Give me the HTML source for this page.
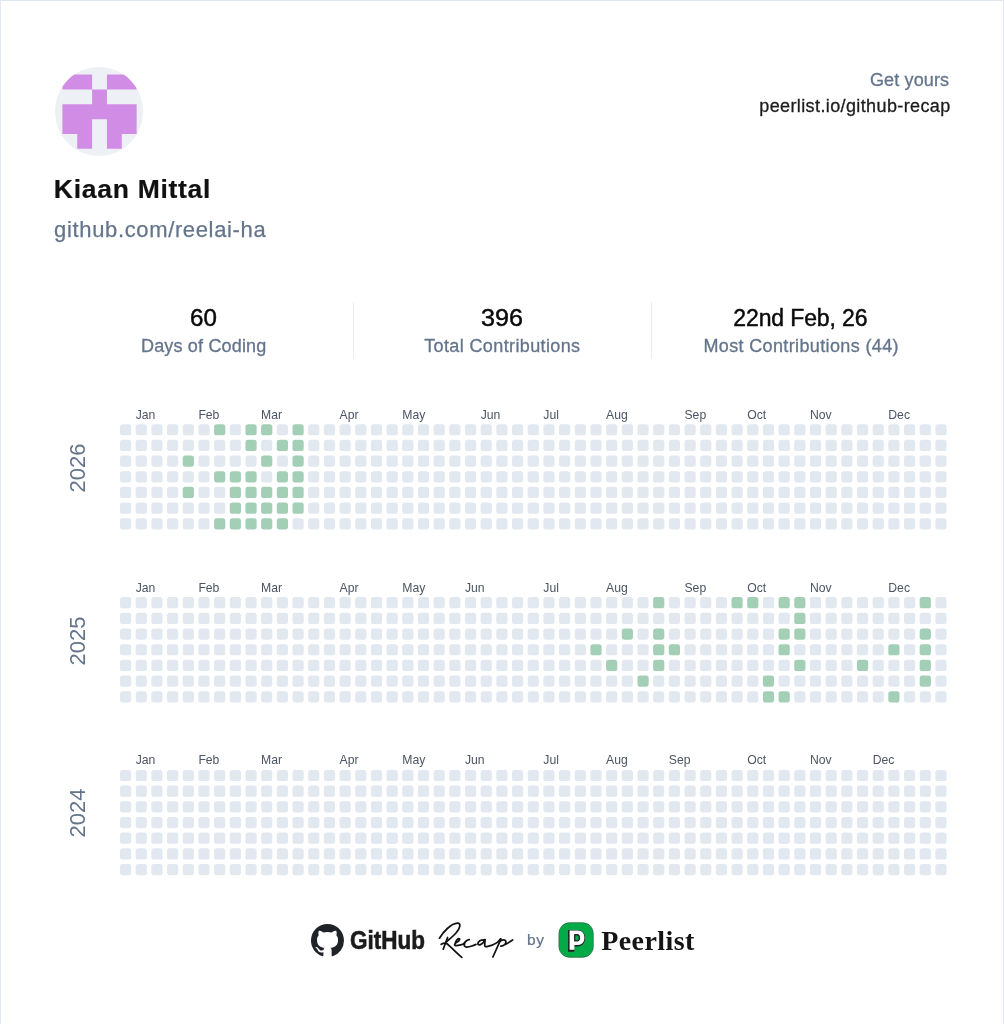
<!DOCTYPE html>
<html><head><meta charset="utf-8"><title>GitHub Recap</title>
<style>
html,body{margin:0;padding:0;background:#fff;}
body{width:1004px;height:1024px;overflow:hidden;position:relative;font-family:"Liberation Sans",sans-serif;}
.page{position:absolute;left:0;top:0;width:1004px;height:1024px;will-change:transform;}
.frame{position:absolute;left:0;top:0;width:1002px;height:1100px;border:1px solid #e2e8f0;}
.grid{position:absolute;left:0;top:0;}
.grid rect{width:11.2px;height:11.2px;rx:2.6px;fill:#e2e8f0;}
.grid rect.g{fill:#a3cfb7;}
.mon{position:absolute;font-size:12.2px;color:#4b5563;line-height:1;white-space:nowrap;}
.yr{position:absolute;left:78.1px;font-size:22px;letter-spacing:0px;color:#64748b;line-height:1;transform:translate(-50%,-50%) rotate(-90deg);white-space:nowrap;}
.avatar{position:absolute;left:54.6px;top:67.4px;width:88.5px;height:88.5px;border-radius:50%;background:#edf0f4;overflow:hidden;}
.sep{position:absolute;top:302px;width:1px;height:57px;background:#e8edf3;}
.t{position:absolute;white-space:nowrap;line-height:1;}

</style></head>
<body>
<div class="frame"></div>
<div class="page">
<div class="avatar"><svg width="88.5" height="88.5" viewBox="0 0 88.5 88.5" style="position:absolute;left:0;top:0"><g fill="#d18de5" transform="translate(7.4,7.6)">
<path d="M0,29.7H29.7V14.85H44.55V29.7H74.25V59.4H59.4V74.25H44.55V44.55H29.7V74.25H14.85V59.4H0Z M0,0H29.7V14.85H0Z M44.55,0H74.25V14.85H44.55Z"/>
</g></svg></div>
<div class="sep" style="left:352.5px"></div>
<div class="sep" style="left:650.5px"></div>
<svg class="ghm" width="33" height="33" viewBox="0 0 16 16" style="position:absolute;left:310.5px;top:923.6px"><path fill="#1f2328" d="M8 0C3.58 0 0 3.58 0 8c0 3.54 2.29 6.53 5.47 7.59.4.07.55-.17.55-.38 0-.19-.01-.82-.01-1.49-2.01.37-2.530-.49-2.69-.94-.09-.23-.48-.94-.82-1.13-.28-.15-.68-.52-.01-.53.63-.01 1.08.58 1.23.82.72 1.21 1.87.87 2.33.66.07-.52.28-.87.51-1.07-1.780-.2-3.640-.89-3.640-3.95 0-.87.31-1.59.82-2.15-.08-.2-.36-1.020.08-2.12 0 0 .67-.21 2.2.82.64-.18 1.32-.27 2-.27.68 0 1.36.09 2 .27 1.53-1.04 2.2-.82 2.2-.82.44 1.1.16 1.92.08 2.12.51.56.82 1.27.82 2.15 0 3.07-1.87 3.75-3.65 3.95.29.25.54.73.54 1.48 0 1.07-.01 1.93-.01 2.2 0 .21.15.46.55.38A8.013 8.013 0 0016 8c0-4.42-3.58-8-8-8z"/></svg>
<div class="t" style="left:349.7px;top:926.67px;font-size:26.5px;font-weight:bold;color:#1b1b1b;-webkit-text-stroke:0.6px #1b1b1b;transform:scaleX(0.85);transform-origin:0 0">GitHub</div>
<svg width="1004" height="1024" viewBox="0 0 1004 1024" style="position:absolute;left:0;top:0">
<g fill="none" stroke="#111" stroke-width="1.75" stroke-linecap="round" stroke-linejoin="round">
<path d="M439.5,938.2 C443,932 451,923.5 457.5,923.2 C461.5,923 460,928.5 456,933 C453,936.5 449,939.5 446,942"/>
<path d="M447.6,937.5 L443.2,949.2"/>
<path d="M441.2,944.3 C443,943.4 445.5,942.8 447,943.8 C451,947 457,953.5 461.8,957.4"/>
<path d="M454.6,945 C455.5,942 456.8,939 458.5,938.6 C460.5,938.3 460,941 456,942.8 C454.5,943.8 454.2,945.5 456,945.6 C458,945.7 460.5,944.8 463.5,944.2"/>
<path d="M463.5,944.2 C465,941.5 467,939.8 469.3,939.6 C466.5,939.8 464.2,942.5 464.3,945.3 C464.4,947.5 467.5,947.6 471.9,946 C473.5,945.4 475,944.8 476,944.4"/>
<path d="M484.3,939.8 C481,939.5 478,941.5 477.9,943.6 C477.8,945.2 480,945 481.5,944 C483,943 484.5,941 485.1,939.6 L484.7,945 C484.6,946.5 485.8,946.9 487,946.6 C490,946 494,944.8 497,942.6 C498.5,941.5 499.8,940 500.5,938.8"/>
<path d="M500.9,939.1 L492.9,957"/>
<path d="M499.3,941.8 C501,940.3 503.5,939.6 505.2,940.4 C506.5,941.2 506,943.5 504.5,944.7 C503.2,945.8 501.5,946.3 500.7,946 C504,945.8 508,943 512.6,940"/>
</g>
<g transform="translate(554,918)">
<rect x="4.8" y="4.6" width="34.6" height="34.8" rx="11" ry="11" fill="#04aa47" stroke="#3a2a3a" stroke-width="0.4"/>
<path fill="#231f20" d="M14.1,12.0 H24 C28.3,12.0 31.1,15.3 31.1,19.9 C31.1,24.6 28.2,28.4 23.6,28.4 H20.3 V33.8 H14.1 Z"/>
<path fill="#fff" fill-rule="evenodd" d="M15.6,12.6 H24 C28,12.6 30.4,15.5 30.4,19.8 C30.4,24.2 27.8,27 24,27 H20.4 V31.8 H15.6 Z M20.2,16.2 H23.6 C25,16.2 25.9,17.8 25.9,19.8 C25.9,21.8 25,23.3 23.6,23.3 H20.2 Z"/>
<path fill="#231f20" d="M20.2,16.2 H23.6 C25,16.2 25.9,17.8 25.9,19.8 C25.9,21.8 25,23.3 23.6,23.3 H20.2 Z"/>
<path fill="#04aa47" d="M21.4,17.4 H23.4 C24.3,17.4 24.7,18.6 24.7,19.9 C24.7,21.4 24.2,22.3 23.3,22.3 H21.4 Z"/>
</g>
</svg>

<div class="t" style="left:869.90px;top:71.06px;font-size:18px;letter-spacing:0.150px;font-weight:normal;font-family:Liberation Sans;color:#64748b;-webkit-text-stroke:0.3px #64748b;">Get yours</div>
<div class="t" style="left:759.30px;top:97.46px;font-size:18px;letter-spacing:0.383px;font-weight:normal;font-family:Liberation Sans;color:#1c1c1c;-webkit-text-stroke:0.3px #1c1c1c;">peerlist.io/github-recap</div>
<div class="t" style="left:53.80px;top:175.87px;font-size:26.5px;letter-spacing:0.718px;font-weight:bold;font-family:Liberation Sans;color:#111111;-webkit-text-stroke:0.2px #111111;">Kiaan Mittal</div>
<div class="t" style="left:54.10px;top:218.68px;font-size:22px;letter-spacing:0.642px;font-weight:normal;font-family:Liberation Sans;color:#64748b;-webkit-text-stroke:0.25px #64748b;">github.com/reelai-ha</div>
<div class="t" style="transform:scaleX(1.05);transform-origin:0 0;left:189.95px;top:306.83px;font-size:23px;letter-spacing:0.000px;font-weight:normal;font-family:Liberation Sans;color:#0a0a0a;-webkit-text-stroke:0.45px #0a0a0a;">60</div>
<div class="t" style="left:141.00px;top:336.56px;font-size:18px;letter-spacing:0.169px;font-weight:normal;font-family:Liberation Sans;color:#64748b;-webkit-text-stroke:0.3px #64748b;">Days of Coding</div>
<div class="t" style="transform:scaleX(1.094);transform-origin:0 0;left:481.21px;top:306.83px;font-size:23px;letter-spacing:0.000px;font-weight:normal;font-family:Liberation Sans;color:#0a0a0a;-webkit-text-stroke:0.45px #0a0a0a;">396</div>
<div class="t" style="left:424.20px;top:336.56px;font-size:18px;letter-spacing:0.378px;font-weight:normal;font-family:Liberation Sans;color:#64748b;-webkit-text-stroke:0.3px #64748b;">Total Contributions</div>
<div class="t" style="left:733.30px;top:306.83px;font-size:23px;letter-spacing:-0.127px;font-weight:normal;font-family:Liberation Sans;color:#0a0a0a;-webkit-text-stroke:0.45px #0a0a0a;">22nd Feb, 26</div>
<div class="t" style="left:703.40px;top:336.56px;font-size:18px;letter-spacing:0.368px;font-weight:normal;font-family:Liberation Sans;color:#64748b;-webkit-text-stroke:0.3px #64748b;">Most Contributions (44)</div>
<div class="t" style="left:527.10px;top:932.48px;font-size:15.5px;letter-spacing:0.500px;font-weight:normal;font-family:Liberation Sans;color:#64748b;-webkit-text-stroke:0.2px #64748b;">by</div>
<div class="t" style="left:601.20px;top:927.15px;font-size:28px;letter-spacing:0.429px;font-weight:bold;font-family:Liberation Serif;color:#141414;">Peerlist</div>

<svg class="grid" width="1004" height="1024" viewBox="0 0 1004 1024"><rect x="120.00" y="424.15"/><rect x="120.00" y="439.83"/><rect x="120.00" y="455.51"/><rect x="120.00" y="471.19"/><rect x="120.00" y="486.87"/><rect x="120.00" y="502.55"/><rect x="120.00" y="518.23"/><rect x="135.68" y="424.15"/><rect x="135.68" y="439.83"/><rect x="135.68" y="455.51"/><rect x="135.68" y="471.19"/><rect x="135.68" y="486.87"/><rect x="135.68" y="502.55"/><rect x="135.68" y="518.23"/><rect x="151.36" y="424.15"/><rect x="151.36" y="439.83"/><rect x="151.36" y="455.51"/><rect x="151.36" y="471.19"/><rect x="151.36" y="486.87"/><rect x="151.36" y="502.55"/><rect x="151.36" y="518.23"/><rect x="167.04" y="424.15"/><rect x="167.04" y="439.83"/><rect x="167.04" y="455.51"/><rect x="167.04" y="471.19"/><rect x="167.04" y="486.87"/><rect x="167.04" y="502.55"/><rect x="167.04" y="518.23"/><rect x="182.72" y="424.15"/><rect x="182.72" y="439.83"/><rect x="182.72" y="455.51" class="g"/><rect x="182.72" y="471.19"/><rect x="182.72" y="486.87" class="g"/><rect x="182.72" y="502.55"/><rect x="182.72" y="518.23"/><rect x="198.40" y="424.15"/><rect x="198.40" y="439.83"/><rect x="198.40" y="455.51"/><rect x="198.40" y="471.19"/><rect x="198.40" y="486.87"/><rect x="198.40" y="502.55"/><rect x="198.40" y="518.23"/><rect x="214.08" y="424.15" class="g"/><rect x="214.08" y="439.83"/><rect x="214.08" y="455.51"/><rect x="214.08" y="471.19" class="g"/><rect x="214.08" y="486.87"/><rect x="214.08" y="502.55"/><rect x="214.08" y="518.23" class="g"/><rect x="229.76" y="424.15"/><rect x="229.76" y="439.83"/><rect x="229.76" y="455.51"/><rect x="229.76" y="471.19" class="g"/><rect x="229.76" y="486.87" class="g"/><rect x="229.76" y="502.55" class="g"/><rect x="229.76" y="518.23" class="g"/><rect x="245.44" y="424.15" class="g"/><rect x="245.44" y="439.83" class="g"/><rect x="245.44" y="455.51"/><rect x="245.44" y="471.19" class="g"/><rect x="245.44" y="486.87" class="g"/><rect x="245.44" y="502.55" class="g"/><rect x="245.44" y="518.23" class="g"/><rect x="261.12" y="424.15" class="g"/><rect x="261.12" y="439.83"/><rect x="261.12" y="455.51" class="g"/><rect x="261.12" y="471.19"/><rect x="261.12" y="486.87" class="g"/><rect x="261.12" y="502.55" class="g"/><rect x="261.12" y="518.23" class="g"/><rect x="276.80" y="424.15"/><rect x="276.80" y="439.83" class="g"/><rect x="276.80" y="455.51"/><rect x="276.80" y="471.19" class="g"/><rect x="276.80" y="486.87" class="g"/><rect x="276.80" y="502.55" class="g"/><rect x="276.80" y="518.23" class="g"/><rect x="292.48" y="424.15" class="g"/><rect x="292.48" y="439.83" class="g"/><rect x="292.48" y="455.51" class="g"/><rect x="292.48" y="471.19" class="g"/><rect x="292.48" y="486.87" class="g"/><rect x="292.48" y="502.55" class="g"/><rect x="292.48" y="518.23"/><rect x="308.16" y="424.15"/><rect x="308.16" y="439.83"/><rect x="308.16" y="455.51"/><rect x="308.16" y="471.19"/><rect x="308.16" y="486.87"/><rect x="308.16" y="502.55"/><rect x="308.16" y="518.23"/><rect x="323.84" y="424.15"/><rect x="323.84" y="439.83"/><rect x="323.84" y="455.51"/><rect x="323.84" y="471.19"/><rect x="323.84" y="486.87"/><rect x="323.84" y="502.55"/><rect x="323.84" y="518.23"/><rect x="339.52" y="424.15"/><rect x="339.52" y="439.83"/><rect x="339.52" y="455.51"/><rect x="339.52" y="471.19"/><rect x="339.52" y="486.87"/><rect x="339.52" y="502.55"/><rect x="339.52" y="518.23"/><rect x="355.20" y="424.15"/><rect x="355.20" y="439.83"/><rect x="355.20" y="455.51"/><rect x="355.20" y="471.19"/><rect x="355.20" y="486.87"/><rect x="355.20" y="502.55"/><rect x="355.20" y="518.23"/><rect x="370.88" y="424.15"/><rect x="370.88" y="439.83"/><rect x="370.88" y="455.51"/><rect x="370.88" y="471.19"/><rect x="370.88" y="486.87"/><rect x="370.88" y="502.55"/><rect x="370.88" y="518.23"/><rect x="386.56" y="424.15"/><rect x="386.56" y="439.83"/><rect x="386.56" y="455.51"/><rect x="386.56" y="471.19"/><rect x="386.56" y="486.87"/><rect x="386.56" y="502.55"/><rect x="386.56" y="518.23"/><rect x="402.24" y="424.15"/><rect x="402.24" y="439.83"/><rect x="402.24" y="455.51"/><rect x="402.24" y="471.19"/><rect x="402.24" y="486.87"/><rect x="402.24" y="502.55"/><rect x="402.24" y="518.23"/><rect x="417.92" y="424.15"/><rect x="417.92" y="439.83"/><rect x="417.92" y="455.51"/><rect x="417.92" y="471.19"/><rect x="417.92" y="486.87"/><rect x="417.92" y="502.55"/><rect x="417.92" y="518.23"/><rect x="433.60" y="424.15"/><rect x="433.60" y="439.83"/><rect x="433.60" y="455.51"/><rect x="433.60" y="471.19"/><rect x="433.60" y="486.87"/><rect x="433.60" y="502.55"/><rect x="433.60" y="518.23"/><rect x="449.28" y="424.15"/><rect x="449.28" y="439.83"/><rect x="449.28" y="455.51"/><rect x="449.28" y="471.19"/><rect x="449.28" y="486.87"/><rect x="449.28" y="502.55"/><rect x="449.28" y="518.23"/><rect x="464.96" y="424.15"/><rect x="464.96" y="439.83"/><rect x="464.96" y="455.51"/><rect x="464.96" y="471.19"/><rect x="464.96" y="486.87"/><rect x="464.96" y="502.55"/><rect x="464.96" y="518.23"/><rect x="480.64" y="424.15"/><rect x="480.64" y="439.83"/><rect x="480.64" y="455.51"/><rect x="480.64" y="471.19"/><rect x="480.64" y="486.87"/><rect x="480.64" y="502.55"/><rect x="480.64" y="518.23"/><rect x="496.32" y="424.15"/><rect x="496.32" y="439.83"/><rect x="496.32" y="455.51"/><rect x="496.32" y="471.19"/><rect x="496.32" y="486.87"/><rect x="496.32" y="502.55"/><rect x="496.32" y="518.23"/><rect x="512.00" y="424.15"/><rect x="512.00" y="439.83"/><rect x="512.00" y="455.51"/><rect x="512.00" y="471.19"/><rect x="512.00" y="486.87"/><rect x="512.00" y="502.55"/><rect x="512.00" y="518.23"/><rect x="527.68" y="424.15"/><rect x="527.68" y="439.83"/><rect x="527.68" y="455.51"/><rect x="527.68" y="471.19"/><rect x="527.68" y="486.87"/><rect x="527.68" y="502.55"/><rect x="527.68" y="518.23"/><rect x="543.36" y="424.15"/><rect x="543.36" y="439.83"/><rect x="543.36" y="455.51"/><rect x="543.36" y="471.19"/><rect x="543.36" y="486.87"/><rect x="543.36" y="502.55"/><rect x="543.36" y="518.23"/><rect x="559.04" y="424.15"/><rect x="559.04" y="439.83"/><rect x="559.04" y="455.51"/><rect x="559.04" y="471.19"/><rect x="559.04" y="486.87"/><rect x="559.04" y="502.55"/><rect x="559.04" y="518.23"/><rect x="574.72" y="424.15"/><rect x="574.72" y="439.83"/><rect x="574.72" y="455.51"/><rect x="574.72" y="471.19"/><rect x="574.72" y="486.87"/><rect x="574.72" y="502.55"/><rect x="574.72" y="518.23"/><rect x="590.40" y="424.15"/><rect x="590.40" y="439.83"/><rect x="590.40" y="455.51"/><rect x="590.40" y="471.19"/><rect x="590.40" y="486.87"/><rect x="590.40" y="502.55"/><rect x="590.40" y="518.23"/><rect x="606.08" y="424.15"/><rect x="606.08" y="439.83"/><rect x="606.08" y="455.51"/><rect x="606.08" y="471.19"/><rect x="606.08" y="486.87"/><rect x="606.08" y="502.55"/><rect x="606.08" y="518.23"/><rect x="621.76" y="424.15"/><rect x="621.76" y="439.83"/><rect x="621.76" y="455.51"/><rect x="621.76" y="471.19"/><rect x="621.76" y="486.87"/><rect x="621.76" y="502.55"/><rect x="621.76" y="518.23"/><rect x="637.44" y="424.15"/><rect x="637.44" y="439.83"/><rect x="637.44" y="455.51"/><rect x="637.44" y="471.19"/><rect x="637.44" y="486.87"/><rect x="637.44" y="502.55"/><rect x="637.44" y="518.23"/><rect x="653.12" y="424.15"/><rect x="653.12" y="439.83"/><rect x="653.12" y="455.51"/><rect x="653.12" y="471.19"/><rect x="653.12" y="486.87"/><rect x="653.12" y="502.55"/><rect x="653.12" y="518.23"/><rect x="668.80" y="424.15"/><rect x="668.80" y="439.83"/><rect x="668.80" y="455.51"/><rect x="668.80" y="471.19"/><rect x="668.80" y="486.87"/><rect x="668.80" y="502.55"/><rect x="668.80" y="518.23"/><rect x="684.48" y="424.15"/><rect x="684.48" y="439.83"/><rect x="684.48" y="455.51"/><rect x="684.48" y="471.19"/><rect x="684.48" y="486.87"/><rect x="684.48" y="502.55"/><rect x="684.48" y="518.23"/><rect x="700.16" y="424.15"/><rect x="700.16" y="439.83"/><rect x="700.16" y="455.51"/><rect x="700.16" y="471.19"/><rect x="700.16" y="486.87"/><rect x="700.16" y="502.55"/><rect x="700.16" y="518.23"/><rect x="715.84" y="424.15"/><rect x="715.84" y="439.83"/><rect x="715.84" y="455.51"/><rect x="715.84" y="471.19"/><rect x="715.84" y="486.87"/><rect x="715.84" y="502.55"/><rect x="715.84" y="518.23"/><rect x="731.52" y="424.15"/><rect x="731.52" y="439.83"/><rect x="731.52" y="455.51"/><rect x="731.52" y="471.19"/><rect x="731.52" y="486.87"/><rect x="731.52" y="502.55"/><rect x="731.52" y="518.23"/><rect x="747.20" y="424.15"/><rect x="747.20" y="439.83"/><rect x="747.20" y="455.51"/><rect x="747.20" y="471.19"/><rect x="747.20" y="486.87"/><rect x="747.20" y="502.55"/><rect x="747.20" y="518.23"/><rect x="762.88" y="424.15"/><rect x="762.88" y="439.83"/><rect x="762.88" y="455.51"/><rect x="762.88" y="471.19"/><rect x="762.88" y="486.87"/><rect x="762.88" y="502.55"/><rect x="762.88" y="518.23"/><rect x="778.56" y="424.15"/><rect x="778.56" y="439.83"/><rect x="778.56" y="455.51"/><rect x="778.56" y="471.19"/><rect x="778.56" y="486.87"/><rect x="778.56" y="502.55"/><rect x="778.56" y="518.23"/><rect x="794.24" y="424.15"/><rect x="794.24" y="439.83"/><rect x="794.24" y="455.51"/><rect x="794.24" y="471.19"/><rect x="794.24" y="486.87"/><rect x="794.24" y="502.55"/><rect x="794.24" y="518.23"/><rect x="809.92" y="424.15"/><rect x="809.92" y="439.83"/><rect x="809.92" y="455.51"/><rect x="809.92" y="471.19"/><rect x="809.92" y="486.87"/><rect x="809.92" y="502.55"/><rect x="809.92" y="518.23"/><rect x="825.60" y="424.15"/><rect x="825.60" y="439.83"/><rect x="825.60" y="455.51"/><rect x="825.60" y="471.19"/><rect x="825.60" y="486.87"/><rect x="825.60" y="502.55"/><rect x="825.60" y="518.23"/><rect x="841.28" y="424.15"/><rect x="841.28" y="439.83"/><rect x="841.28" y="455.51"/><rect x="841.28" y="471.19"/><rect x="841.28" y="486.87"/><rect x="841.28" y="502.55"/><rect x="841.28" y="518.23"/><rect x="856.96" y="424.15"/><rect x="856.96" y="439.83"/><rect x="856.96" y="455.51"/><rect x="856.96" y="471.19"/><rect x="856.96" y="486.87"/><rect x="856.96" y="502.55"/><rect x="856.96" y="518.23"/><rect x="872.64" y="424.15"/><rect x="872.64" y="439.83"/><rect x="872.64" y="455.51"/><rect x="872.64" y="471.19"/><rect x="872.64" y="486.87"/><rect x="872.64" y="502.55"/><rect x="872.64" y="518.23"/><rect x="888.32" y="424.15"/><rect x="888.32" y="439.83"/><rect x="888.32" y="455.51"/><rect x="888.32" y="471.19"/><rect x="888.32" y="486.87"/><rect x="888.32" y="502.55"/><rect x="888.32" y="518.23"/><rect x="904.00" y="424.15"/><rect x="904.00" y="439.83"/><rect x="904.00" y="455.51"/><rect x="904.00" y="471.19"/><rect x="904.00" y="486.87"/><rect x="904.00" y="502.55"/><rect x="904.00" y="518.23"/><rect x="919.68" y="424.15"/><rect x="919.68" y="439.83"/><rect x="919.68" y="455.51"/><rect x="919.68" y="471.19"/><rect x="919.68" y="486.87"/><rect x="919.68" y="502.55"/><rect x="919.68" y="518.23"/><rect x="935.36" y="424.15"/><rect x="935.36" y="439.83"/><rect x="935.36" y="455.51"/><rect x="935.36" y="471.19"/><rect x="935.36" y="486.87"/><rect x="935.36" y="502.55"/><rect x="935.36" y="518.23"/><rect x="120.00" y="597.10"/><rect x="120.00" y="612.78"/><rect x="120.00" y="628.46"/><rect x="120.00" y="644.14"/><rect x="120.00" y="659.82"/><rect x="120.00" y="675.50"/><rect x="120.00" y="691.18"/><rect x="135.68" y="597.10"/><rect x="135.68" y="612.78"/><rect x="135.68" y="628.46"/><rect x="135.68" y="644.14"/><rect x="135.68" y="659.82"/><rect x="135.68" y="675.50"/><rect x="135.68" y="691.18"/><rect x="151.36" y="597.10"/><rect x="151.36" y="612.78"/><rect x="151.36" y="628.46"/><rect x="151.36" y="644.14"/><rect x="151.36" y="659.82"/><rect x="151.36" y="675.50"/><rect x="151.36" y="691.18"/><rect x="167.04" y="597.10"/><rect x="167.04" y="612.78"/><rect x="167.04" y="628.46"/><rect x="167.04" y="644.14"/><rect x="167.04" y="659.82"/><rect x="167.04" y="675.50"/><rect x="167.04" y="691.18"/><rect x="182.72" y="597.10"/><rect x="182.72" y="612.78"/><rect x="182.72" y="628.46"/><rect x="182.72" y="644.14"/><rect x="182.72" y="659.82"/><rect x="182.72" y="675.50"/><rect x="182.72" y="691.18"/><rect x="198.40" y="597.10"/><rect x="198.40" y="612.78"/><rect x="198.40" y="628.46"/><rect x="198.40" y="644.14"/><rect x="198.40" y="659.82"/><rect x="198.40" y="675.50"/><rect x="198.40" y="691.18"/><rect x="214.08" y="597.10"/><rect x="214.08" y="612.78"/><rect x="214.08" y="628.46"/><rect x="214.08" y="644.14"/><rect x="214.08" y="659.82"/><rect x="214.08" y="675.50"/><rect x="214.08" y="691.18"/><rect x="229.76" y="597.10"/><rect x="229.76" y="612.78"/><rect x="229.76" y="628.46"/><rect x="229.76" y="644.14"/><rect x="229.76" y="659.82"/><rect x="229.76" y="675.50"/><rect x="229.76" y="691.18"/><rect x="245.44" y="597.10"/><rect x="245.44" y="612.78"/><rect x="245.44" y="628.46"/><rect x="245.44" y="644.14"/><rect x="245.44" y="659.82"/><rect x="245.44" y="675.50"/><rect x="245.44" y="691.18"/><rect x="261.12" y="597.10"/><rect x="261.12" y="612.78"/><rect x="261.12" y="628.46"/><rect x="261.12" y="644.14"/><rect x="261.12" y="659.82"/><rect x="261.12" y="675.50"/><rect x="261.12" y="691.18"/><rect x="276.80" y="597.10"/><rect x="276.80" y="612.78"/><rect x="276.80" y="628.46"/><rect x="276.80" y="644.14"/><rect x="276.80" y="659.82"/><rect x="276.80" y="675.50"/><rect x="276.80" y="691.18"/><rect x="292.48" y="597.10"/><rect x="292.48" y="612.78"/><rect x="292.48" y="628.46"/><rect x="292.48" y="644.14"/><rect x="292.48" y="659.82"/><rect x="292.48" y="675.50"/><rect x="292.48" y="691.18"/><rect x="308.16" y="597.10"/><rect x="308.16" y="612.78"/><rect x="308.16" y="628.46"/><rect x="308.16" y="644.14"/><rect x="308.16" y="659.82"/><rect x="308.16" y="675.50"/><rect x="308.16" y="691.18"/><rect x="323.84" y="597.10"/><rect x="323.84" y="612.78"/><rect x="323.84" y="628.46"/><rect x="323.84" y="644.14"/><rect x="323.84" y="659.82"/><rect x="323.84" y="675.50"/><rect x="323.84" y="691.18"/><rect x="339.52" y="597.10"/><rect x="339.52" y="612.78"/><rect x="339.52" y="628.46"/><rect x="339.52" y="644.14"/><rect x="339.52" y="659.82"/><rect x="339.52" y="675.50"/><rect x="339.52" y="691.18"/><rect x="355.20" y="597.10"/><rect x="355.20" y="612.78"/><rect x="355.20" y="628.46"/><rect x="355.20" y="644.14"/><rect x="355.20" y="659.82"/><rect x="355.20" y="675.50"/><rect x="355.20" y="691.18"/><rect x="370.88" y="597.10"/><rect x="370.88" y="612.78"/><rect x="370.88" y="628.46"/><rect x="370.88" y="644.14"/><rect x="370.88" y="659.82"/><rect x="370.88" y="675.50"/><rect x="370.88" y="691.18"/><rect x="386.56" y="597.10"/><rect x="386.56" y="612.78"/><rect x="386.56" y="628.46"/><rect x="386.56" y="644.14"/><rect x="386.56" y="659.82"/><rect x="386.56" y="675.50"/><rect x="386.56" y="691.18"/><rect x="402.24" y="597.10"/><rect x="402.24" y="612.78"/><rect x="402.24" y="628.46"/><rect x="402.24" y="644.14"/><rect x="402.24" y="659.82"/><rect x="402.24" y="675.50"/><rect x="402.24" y="691.18"/><rect x="417.92" y="597.10"/><rect x="417.92" y="612.78"/><rect x="417.92" y="628.46"/><rect x="417.92" y="644.14"/><rect x="417.92" y="659.82"/><rect x="417.92" y="675.50"/><rect x="417.92" y="691.18"/><rect x="433.60" y="597.10"/><rect x="433.60" y="612.78"/><rect x="433.60" y="628.46"/><rect x="433.60" y="644.14"/><rect x="433.60" y="659.82"/><rect x="433.60" y="675.50"/><rect x="433.60" y="691.18"/><rect x="449.28" y="597.10"/><rect x="449.28" y="612.78"/><rect x="449.28" y="628.46"/><rect x="449.28" y="644.14"/><rect x="449.28" y="659.82"/><rect x="449.28" y="675.50"/><rect x="449.28" y="691.18"/><rect x="464.96" y="597.10"/><rect x="464.96" y="612.78"/><rect x="464.96" y="628.46"/><rect x="464.96" y="644.14"/><rect x="464.96" y="659.82"/><rect x="464.96" y="675.50"/><rect x="464.96" y="691.18"/><rect x="480.64" y="597.10"/><rect x="480.64" y="612.78"/><rect x="480.64" y="628.46"/><rect x="480.64" y="644.14"/><rect x="480.64" y="659.82"/><rect x="480.64" y="675.50"/><rect x="480.64" y="691.18"/><rect x="496.32" y="597.10"/><rect x="496.32" y="612.78"/><rect x="496.32" y="628.46"/><rect x="496.32" y="644.14"/><rect x="496.32" y="659.82"/><rect x="496.32" y="675.50"/><rect x="496.32" y="691.18"/><rect x="512.00" y="597.10"/><rect x="512.00" y="612.78"/><rect x="512.00" y="628.46"/><rect x="512.00" y="644.14"/><rect x="512.00" y="659.82"/><rect x="512.00" y="675.50"/><rect x="512.00" y="691.18"/><rect x="527.68" y="597.10"/><rect x="527.68" y="612.78"/><rect x="527.68" y="628.46"/><rect x="527.68" y="644.14"/><rect x="527.68" y="659.82"/><rect x="527.68" y="675.50"/><rect x="527.68" y="691.18"/><rect x="543.36" y="597.10"/><rect x="543.36" y="612.78"/><rect x="543.36" y="628.46"/><rect x="543.36" y="644.14"/><rect x="543.36" y="659.82"/><rect x="543.36" y="675.50"/><rect x="543.36" y="691.18"/><rect x="559.04" y="597.10"/><rect x="559.04" y="612.78"/><rect x="559.04" y="628.46"/><rect x="559.04" y="644.14"/><rect x="559.04" y="659.82"/><rect x="559.04" y="675.50"/><rect x="559.04" y="691.18"/><rect x="574.72" y="597.10"/><rect x="574.72" y="612.78"/><rect x="574.72" y="628.46"/><rect x="574.72" y="644.14"/><rect x="574.72" y="659.82"/><rect x="574.72" y="675.50"/><rect x="574.72" y="691.18"/><rect x="590.40" y="597.10"/><rect x="590.40" y="612.78"/><rect x="590.40" y="628.46"/><rect x="590.40" y="644.14" class="g"/><rect x="590.40" y="659.82"/><rect x="590.40" y="675.50"/><rect x="590.40" y="691.18"/><rect x="606.08" y="597.10"/><rect x="606.08" y="612.78"/><rect x="606.08" y="628.46"/><rect x="606.08" y="644.14"/><rect x="606.08" y="659.82" class="g"/><rect x="606.08" y="675.50"/><rect x="606.08" y="691.18"/><rect x="621.76" y="597.10"/><rect x="621.76" y="612.78"/><rect x="621.76" y="628.46" class="g"/><rect x="621.76" y="644.14"/><rect x="621.76" y="659.82"/><rect x="621.76" y="675.50"/><rect x="621.76" y="691.18"/><rect x="637.44" y="597.10"/><rect x="637.44" y="612.78"/><rect x="637.44" y="628.46"/><rect x="637.44" y="644.14"/><rect x="637.44" y="659.82"/><rect x="637.44" y="675.50" class="g"/><rect x="637.44" y="691.18"/><rect x="653.12" y="597.10" class="g"/><rect x="653.12" y="612.78"/><rect x="653.12" y="628.46" class="g"/><rect x="653.12" y="644.14" class="g"/><rect x="653.12" y="659.82" class="g"/><rect x="653.12" y="675.50"/><rect x="653.12" y="691.18"/><rect x="668.80" y="597.10"/><rect x="668.80" y="612.78"/><rect x="668.80" y="628.46"/><rect x="668.80" y="644.14" class="g"/><rect x="668.80" y="659.82"/><rect x="668.80" y="675.50"/><rect x="668.80" y="691.18"/><rect x="684.48" y="597.10"/><rect x="684.48" y="612.78"/><rect x="684.48" y="628.46"/><rect x="684.48" y="644.14"/><rect x="684.48" y="659.82"/><rect x="684.48" y="675.50"/><rect x="684.48" y="691.18"/><rect x="700.16" y="597.10"/><rect x="700.16" y="612.78"/><rect x="700.16" y="628.46"/><rect x="700.16" y="644.14"/><rect x="700.16" y="659.82"/><rect x="700.16" y="675.50"/><rect x="700.16" y="691.18"/><rect x="715.84" y="597.10"/><rect x="715.84" y="612.78"/><rect x="715.84" y="628.46"/><rect x="715.84" y="644.14"/><rect x="715.84" y="659.82"/><rect x="715.84" y="675.50"/><rect x="715.84" y="691.18"/><rect x="731.52" y="597.10" class="g"/><rect x="731.52" y="612.78"/><rect x="731.52" y="628.46"/><rect x="731.52" y="644.14"/><rect x="731.52" y="659.82"/><rect x="731.52" y="675.50"/><rect x="731.52" y="691.18"/><rect x="747.20" y="597.10" class="g"/><rect x="747.20" y="612.78"/><rect x="747.20" y="628.46"/><rect x="747.20" y="644.14"/><rect x="747.20" y="659.82"/><rect x="747.20" y="675.50"/><rect x="747.20" y="691.18"/><rect x="762.88" y="597.10"/><rect x="762.88" y="612.78"/><rect x="762.88" y="628.46"/><rect x="762.88" y="644.14"/><rect x="762.88" y="659.82"/><rect x="762.88" y="675.50" class="g"/><rect x="762.88" y="691.18" class="g"/><rect x="778.56" y="597.10" class="g"/><rect x="778.56" y="612.78"/><rect x="778.56" y="628.46" class="g"/><rect x="778.56" y="644.14" class="g"/><rect x="778.56" y="659.82"/><rect x="778.56" y="675.50"/><rect x="778.56" y="691.18" class="g"/><rect x="794.24" y="597.10" class="g"/><rect x="794.24" y="612.78" class="g"/><rect x="794.24" y="628.46" class="g"/><rect x="794.24" y="644.14"/><rect x="794.24" y="659.82" class="g"/><rect x="794.24" y="675.50"/><rect x="794.24" y="691.18"/><rect x="809.92" y="597.10"/><rect x="809.92" y="612.78"/><rect x="809.92" y="628.46"/><rect x="809.92" y="644.14"/><rect x="809.92" y="659.82"/><rect x="809.92" y="675.50"/><rect x="809.92" y="691.18"/><rect x="825.60" y="597.10"/><rect x="825.60" y="612.78"/><rect x="825.60" y="628.46"/><rect x="825.60" y="644.14"/><rect x="825.60" y="659.82"/><rect x="825.60" y="675.50"/><rect x="825.60" y="691.18"/><rect x="841.28" y="597.10"/><rect x="841.28" y="612.78"/><rect x="841.28" y="628.46"/><rect x="841.28" y="644.14"/><rect x="841.28" y="659.82"/><rect x="841.28" y="675.50"/><rect x="841.28" y="691.18"/><rect x="856.96" y="597.10"/><rect x="856.96" y="612.78"/><rect x="856.96" y="628.46"/><rect x="856.96" y="644.14"/><rect x="856.96" y="659.82" class="g"/><rect x="856.96" y="675.50"/><rect x="856.96" y="691.18"/><rect x="872.64" y="597.10"/><rect x="872.64" y="612.78"/><rect x="872.64" y="628.46"/><rect x="872.64" y="644.14"/><rect x="872.64" y="659.82"/><rect x="872.64" y="675.50"/><rect x="872.64" y="691.18"/><rect x="888.32" y="597.10"/><rect x="888.32" y="612.78"/><rect x="888.32" y="628.46"/><rect x="888.32" y="644.14" class="g"/><rect x="888.32" y="659.82"/><rect x="888.32" y="675.50"/><rect x="888.32" y="691.18" class="g"/><rect x="904.00" y="597.10"/><rect x="904.00" y="612.78"/><rect x="904.00" y="628.46"/><rect x="904.00" y="644.14"/><rect x="904.00" y="659.82"/><rect x="904.00" y="675.50"/><rect x="904.00" y="691.18"/><rect x="919.68" y="597.10" class="g"/><rect x="919.68" y="612.78"/><rect x="919.68" y="628.46" class="g"/><rect x="919.68" y="644.14" class="g"/><rect x="919.68" y="659.82" class="g"/><rect x="919.68" y="675.50" class="g"/><rect x="919.68" y="691.18"/><rect x="935.36" y="597.10"/><rect x="935.36" y="612.78"/><rect x="935.36" y="628.46"/><rect x="935.36" y="644.14"/><rect x="935.36" y="659.82"/><rect x="935.36" y="675.50"/><rect x="935.36" y="691.18"/><rect x="120.00" y="769.90"/><rect x="120.00" y="785.58"/><rect x="120.00" y="801.26"/><rect x="120.00" y="816.94"/><rect x="120.00" y="832.62"/><rect x="120.00" y="848.30"/><rect x="120.00" y="863.98"/><rect x="135.68" y="769.90"/><rect x="135.68" y="785.58"/><rect x="135.68" y="801.26"/><rect x="135.68" y="816.94"/><rect x="135.68" y="832.62"/><rect x="135.68" y="848.30"/><rect x="135.68" y="863.98"/><rect x="151.36" y="769.90"/><rect x="151.36" y="785.58"/><rect x="151.36" y="801.26"/><rect x="151.36" y="816.94"/><rect x="151.36" y="832.62"/><rect x="151.36" y="848.30"/><rect x="151.36" y="863.98"/><rect x="167.04" y="769.90"/><rect x="167.04" y="785.58"/><rect x="167.04" y="801.26"/><rect x="167.04" y="816.94"/><rect x="167.04" y="832.62"/><rect x="167.04" y="848.30"/><rect x="167.04" y="863.98"/><rect x="182.72" y="769.90"/><rect x="182.72" y="785.58"/><rect x="182.72" y="801.26"/><rect x="182.72" y="816.94"/><rect x="182.72" y="832.62"/><rect x="182.72" y="848.30"/><rect x="182.72" y="863.98"/><rect x="198.40" y="769.90"/><rect x="198.40" y="785.58"/><rect x="198.40" y="801.26"/><rect x="198.40" y="816.94"/><rect x="198.40" y="832.62"/><rect x="198.40" y="848.30"/><rect x="198.40" y="863.98"/><rect x="214.08" y="769.90"/><rect x="214.08" y="785.58"/><rect x="214.08" y="801.26"/><rect x="214.08" y="816.94"/><rect x="214.08" y="832.62"/><rect x="214.08" y="848.30"/><rect x="214.08" y="863.98"/><rect x="229.76" y="769.90"/><rect x="229.76" y="785.58"/><rect x="229.76" y="801.26"/><rect x="229.76" y="816.94"/><rect x="229.76" y="832.62"/><rect x="229.76" y="848.30"/><rect x="229.76" y="863.98"/><rect x="245.44" y="769.90"/><rect x="245.44" y="785.58"/><rect x="245.44" y="801.26"/><rect x="245.44" y="816.94"/><rect x="245.44" y="832.62"/><rect x="245.44" y="848.30"/><rect x="245.44" y="863.98"/><rect x="261.12" y="769.90"/><rect x="261.12" y="785.58"/><rect x="261.12" y="801.26"/><rect x="261.12" y="816.94"/><rect x="261.12" y="832.62"/><rect x="261.12" y="848.30"/><rect x="261.12" y="863.98"/><rect x="276.80" y="769.90"/><rect x="276.80" y="785.58"/><rect x="276.80" y="801.26"/><rect x="276.80" y="816.94"/><rect x="276.80" y="832.62"/><rect x="276.80" y="848.30"/><rect x="276.80" y="863.98"/><rect x="292.48" y="769.90"/><rect x="292.48" y="785.58"/><rect x="292.48" y="801.26"/><rect x="292.48" y="816.94"/><rect x="292.48" y="832.62"/><rect x="292.48" y="848.30"/><rect x="292.48" y="863.98"/><rect x="308.16" y="769.90"/><rect x="308.16" y="785.58"/><rect x="308.16" y="801.26"/><rect x="308.16" y="816.94"/><rect x="308.16" y="832.62"/><rect x="308.16" y="848.30"/><rect x="308.16" y="863.98"/><rect x="323.84" y="769.90"/><rect x="323.84" y="785.58"/><rect x="323.84" y="801.26"/><rect x="323.84" y="816.94"/><rect x="323.84" y="832.62"/><rect x="323.84" y="848.30"/><rect x="323.84" y="863.98"/><rect x="339.52" y="769.90"/><rect x="339.52" y="785.58"/><rect x="339.52" y="801.26"/><rect x="339.52" y="816.94"/><rect x="339.52" y="832.62"/><rect x="339.52" y="848.30"/><rect x="339.52" y="863.98"/><rect x="355.20" y="769.90"/><rect x="355.20" y="785.58"/><rect x="355.20" y="801.26"/><rect x="355.20" y="816.94"/><rect x="355.20" y="832.62"/><rect x="355.20" y="848.30"/><rect x="355.20" y="863.98"/><rect x="370.88" y="769.90"/><rect x="370.88" y="785.58"/><rect x="370.88" y="801.26"/><rect x="370.88" y="816.94"/><rect x="370.88" y="832.62"/><rect x="370.88" y="848.30"/><rect x="370.88" y="863.98"/><rect x="386.56" y="769.90"/><rect x="386.56" y="785.58"/><rect x="386.56" y="801.26"/><rect x="386.56" y="816.94"/><rect x="386.56" y="832.62"/><rect x="386.56" y="848.30"/><rect x="386.56" y="863.98"/><rect x="402.24" y="769.90"/><rect x="402.24" y="785.58"/><rect x="402.24" y="801.26"/><rect x="402.24" y="816.94"/><rect x="402.24" y="832.62"/><rect x="402.24" y="848.30"/><rect x="402.24" y="863.98"/><rect x="417.92" y="769.90"/><rect x="417.92" y="785.58"/><rect x="417.92" y="801.26"/><rect x="417.92" y="816.94"/><rect x="417.92" y="832.62"/><rect x="417.92" y="848.30"/><rect x="417.92" y="863.98"/><rect x="433.60" y="769.90"/><rect x="433.60" y="785.58"/><rect x="433.60" y="801.26"/><rect x="433.60" y="816.94"/><rect x="433.60" y="832.62"/><rect x="433.60" y="848.30"/><rect x="433.60" y="863.98"/><rect x="449.28" y="769.90"/><rect x="449.28" y="785.58"/><rect x="449.28" y="801.26"/><rect x="449.28" y="816.94"/><rect x="449.28" y="832.62"/><rect x="449.28" y="848.30"/><rect x="449.28" y="863.98"/><rect x="464.96" y="769.90"/><rect x="464.96" y="785.58"/><rect x="464.96" y="801.26"/><rect x="464.96" y="816.94"/><rect x="464.96" y="832.62"/><rect x="464.96" y="848.30"/><rect x="464.96" y="863.98"/><rect x="480.64" y="769.90"/><rect x="480.64" y="785.58"/><rect x="480.64" y="801.26"/><rect x="480.64" y="816.94"/><rect x="480.64" y="832.62"/><rect x="480.64" y="848.30"/><rect x="480.64" y="863.98"/><rect x="496.32" y="769.90"/><rect x="496.32" y="785.58"/><rect x="496.32" y="801.26"/><rect x="496.32" y="816.94"/><rect x="496.32" y="832.62"/><rect x="496.32" y="848.30"/><rect x="496.32" y="863.98"/><rect x="512.00" y="769.90"/><rect x="512.00" y="785.58"/><rect x="512.00" y="801.26"/><rect x="512.00" y="816.94"/><rect x="512.00" y="832.62"/><rect x="512.00" y="848.30"/><rect x="512.00" y="863.98"/><rect x="527.68" y="769.90"/><rect x="527.68" y="785.58"/><rect x="527.68" y="801.26"/><rect x="527.68" y="816.94"/><rect x="527.68" y="832.62"/><rect x="527.68" y="848.30"/><rect x="527.68" y="863.98"/><rect x="543.36" y="769.90"/><rect x="543.36" y="785.58"/><rect x="543.36" y="801.26"/><rect x="543.36" y="816.94"/><rect x="543.36" y="832.62"/><rect x="543.36" y="848.30"/><rect x="543.36" y="863.98"/><rect x="559.04" y="769.90"/><rect x="559.04" y="785.58"/><rect x="559.04" y="801.26"/><rect x="559.04" y="816.94"/><rect x="559.04" y="832.62"/><rect x="559.04" y="848.30"/><rect x="559.04" y="863.98"/><rect x="574.72" y="769.90"/><rect x="574.72" y="785.58"/><rect x="574.72" y="801.26"/><rect x="574.72" y="816.94"/><rect x="574.72" y="832.62"/><rect x="574.72" y="848.30"/><rect x="574.72" y="863.98"/><rect x="590.40" y="769.90"/><rect x="590.40" y="785.58"/><rect x="590.40" y="801.26"/><rect x="590.40" y="816.94"/><rect x="590.40" y="832.62"/><rect x="590.40" y="848.30"/><rect x="590.40" y="863.98"/><rect x="606.08" y="769.90"/><rect x="606.08" y="785.58"/><rect x="606.08" y="801.26"/><rect x="606.08" y="816.94"/><rect x="606.08" y="832.62"/><rect x="606.08" y="848.30"/><rect x="606.08" y="863.98"/><rect x="621.76" y="769.90"/><rect x="621.76" y="785.58"/><rect x="621.76" y="801.26"/><rect x="621.76" y="816.94"/><rect x="621.76" y="832.62"/><rect x="621.76" y="848.30"/><rect x="621.76" y="863.98"/><rect x="637.44" y="769.90"/><rect x="637.44" y="785.58"/><rect x="637.44" y="801.26"/><rect x="637.44" y="816.94"/><rect x="637.44" y="832.62"/><rect x="637.44" y="848.30"/><rect x="637.44" y="863.98"/><rect x="653.12" y="769.90"/><rect x="653.12" y="785.58"/><rect x="653.12" y="801.26"/><rect x="653.12" y="816.94"/><rect x="653.12" y="832.62"/><rect x="653.12" y="848.30"/><rect x="653.12" y="863.98"/><rect x="668.80" y="769.90"/><rect x="668.80" y="785.58"/><rect x="668.80" y="801.26"/><rect x="668.80" y="816.94"/><rect x="668.80" y="832.62"/><rect x="668.80" y="848.30"/><rect x="668.80" y="863.98"/><rect x="684.48" y="769.90"/><rect x="684.48" y="785.58"/><rect x="684.48" y="801.26"/><rect x="684.48" y="816.94"/><rect x="684.48" y="832.62"/><rect x="684.48" y="848.30"/><rect x="684.48" y="863.98"/><rect x="700.16" y="769.90"/><rect x="700.16" y="785.58"/><rect x="700.16" y="801.26"/><rect x="700.16" y="816.94"/><rect x="700.16" y="832.62"/><rect x="700.16" y="848.30"/><rect x="700.16" y="863.98"/><rect x="715.84" y="769.90"/><rect x="715.84" y="785.58"/><rect x="715.84" y="801.26"/><rect x="715.84" y="816.94"/><rect x="715.84" y="832.62"/><rect x="715.84" y="848.30"/><rect x="715.84" y="863.98"/><rect x="731.52" y="769.90"/><rect x="731.52" y="785.58"/><rect x="731.52" y="801.26"/><rect x="731.52" y="816.94"/><rect x="731.52" y="832.62"/><rect x="731.52" y="848.30"/><rect x="731.52" y="863.98"/><rect x="747.20" y="769.90"/><rect x="747.20" y="785.58"/><rect x="747.20" y="801.26"/><rect x="747.20" y="816.94"/><rect x="747.20" y="832.62"/><rect x="747.20" y="848.30"/><rect x="747.20" y="863.98"/><rect x="762.88" y="769.90"/><rect x="762.88" y="785.58"/><rect x="762.88" y="801.26"/><rect x="762.88" y="816.94"/><rect x="762.88" y="832.62"/><rect x="762.88" y="848.30"/><rect x="762.88" y="863.98"/><rect x="778.56" y="769.90"/><rect x="778.56" y="785.58"/><rect x="778.56" y="801.26"/><rect x="778.56" y="816.94"/><rect x="778.56" y="832.62"/><rect x="778.56" y="848.30"/><rect x="778.56" y="863.98"/><rect x="794.24" y="769.90"/><rect x="794.24" y="785.58"/><rect x="794.24" y="801.26"/><rect x="794.24" y="816.94"/><rect x="794.24" y="832.62"/><rect x="794.24" y="848.30"/><rect x="794.24" y="863.98"/><rect x="809.92" y="769.90"/><rect x="809.92" y="785.58"/><rect x="809.92" y="801.26"/><rect x="809.92" y="816.94"/><rect x="809.92" y="832.62"/><rect x="809.92" y="848.30"/><rect x="809.92" y="863.98"/><rect x="825.60" y="769.90"/><rect x="825.60" y="785.58"/><rect x="825.60" y="801.26"/><rect x="825.60" y="816.94"/><rect x="825.60" y="832.62"/><rect x="825.60" y="848.30"/><rect x="825.60" y="863.98"/><rect x="841.28" y="769.90"/><rect x="841.28" y="785.58"/><rect x="841.28" y="801.26"/><rect x="841.28" y="816.94"/><rect x="841.28" y="832.62"/><rect x="841.28" y="848.30"/><rect x="841.28" y="863.98"/><rect x="856.96" y="769.90"/><rect x="856.96" y="785.58"/><rect x="856.96" y="801.26"/><rect x="856.96" y="816.94"/><rect x="856.96" y="832.62"/><rect x="856.96" y="848.30"/><rect x="856.96" y="863.98"/><rect x="872.64" y="769.90"/><rect x="872.64" y="785.58"/><rect x="872.64" y="801.26"/><rect x="872.64" y="816.94"/><rect x="872.64" y="832.62"/><rect x="872.64" y="848.30"/><rect x="872.64" y="863.98"/><rect x="888.32" y="769.90"/><rect x="888.32" y="785.58"/><rect x="888.32" y="801.26"/><rect x="888.32" y="816.94"/><rect x="888.32" y="832.62"/><rect x="888.32" y="848.30"/><rect x="888.32" y="863.98"/><rect x="904.00" y="769.90"/><rect x="904.00" y="785.58"/><rect x="904.00" y="801.26"/><rect x="904.00" y="816.94"/><rect x="904.00" y="832.62"/><rect x="904.00" y="848.30"/><rect x="904.00" y="863.98"/><rect x="919.68" y="769.90"/><rect x="919.68" y="785.58"/><rect x="919.68" y="801.26"/><rect x="919.68" y="816.94"/><rect x="919.68" y="832.62"/><rect x="919.68" y="848.30"/><rect x="919.68" y="863.98"/><rect x="935.36" y="769.90"/><rect x="935.36" y="785.58"/><rect x="935.36" y="801.26"/><rect x="935.36" y="816.94"/><rect x="935.36" y="832.62"/><rect x="935.36" y="848.30"/><rect x="935.36" y="863.98"/></svg>
<div class="mon" style="left:135.68px;top:408.65px">Jan</div><div class="mon" style="left:198.40px;top:408.65px">Feb</div><div class="mon" style="left:261.12px;top:408.65px">Mar</div><div class="mon" style="left:339.52px;top:408.65px">Apr</div><div class="mon" style="left:402.24px;top:408.65px">May</div><div class="mon" style="left:480.64px;top:408.65px">Jun</div><div class="mon" style="left:543.36px;top:408.65px">Jul</div><div class="mon" style="left:606.08px;top:408.65px">Aug</div><div class="mon" style="left:684.48px;top:408.65px">Sep</div><div class="mon" style="left:747.20px;top:408.65px">Oct</div><div class="mon" style="left:809.92px;top:408.65px">Nov</div><div class="mon" style="left:888.32px;top:408.65px">Dec</div><div class="yr" style="top:467.65px">2026</div><div class="mon" style="left:135.68px;top:581.60px">Jan</div><div class="mon" style="left:198.40px;top:581.60px">Feb</div><div class="mon" style="left:261.12px;top:581.60px">Mar</div><div class="mon" style="left:339.52px;top:581.60px">Apr</div><div class="mon" style="left:402.24px;top:581.60px">May</div><div class="mon" style="left:464.96px;top:581.60px">Jun</div><div class="mon" style="left:543.36px;top:581.60px">Jul</div><div class="mon" style="left:606.08px;top:581.60px">Aug</div><div class="mon" style="left:684.48px;top:581.60px">Sep</div><div class="mon" style="left:747.20px;top:581.60px">Oct</div><div class="mon" style="left:809.92px;top:581.60px">Nov</div><div class="mon" style="left:888.32px;top:581.60px">Dec</div><div class="yr" style="top:640.60px">2025</div><div class="mon" style="left:135.68px;top:754.40px">Jan</div><div class="mon" style="left:198.40px;top:754.40px">Feb</div><div class="mon" style="left:261.12px;top:754.40px">Mar</div><div class="mon" style="left:339.52px;top:754.40px">Apr</div><div class="mon" style="left:402.24px;top:754.40px">May</div><div class="mon" style="left:464.96px;top:754.40px">Jun</div><div class="mon" style="left:543.36px;top:754.40px">Jul</div><div class="mon" style="left:606.08px;top:754.40px">Aug</div><div class="mon" style="left:668.80px;top:754.40px">Sep</div><div class="mon" style="left:747.20px;top:754.40px">Oct</div><div class="mon" style="left:809.92px;top:754.40px">Nov</div><div class="mon" style="left:872.64px;top:754.40px">Dec</div><div class="yr" style="top:813.40px">2024</div>
</div>
</body></html>
